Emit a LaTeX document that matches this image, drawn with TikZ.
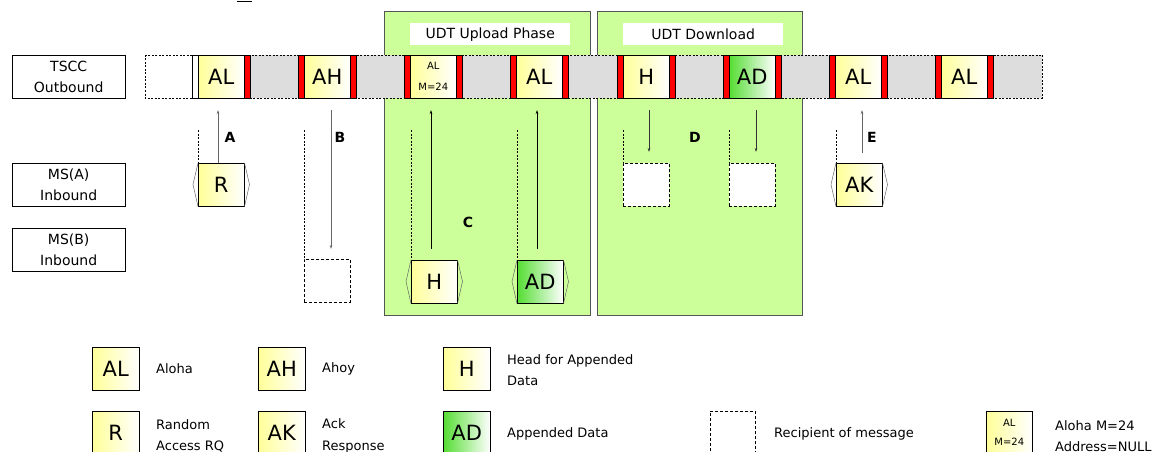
\documentclass[tikz,border=0pt]{standalone}
\usepackage{fontspec}
\setmainfont{DejaVu Sans}
\usetikzlibrary{arrows.meta}
\definecolor{panelgreen}{HTML}{CCFF99}
\definecolor{panelborder}{HTML}{555555}
\definecolor{stripgray}{HTML}{DDDDDD}
\definecolor{ylw}{HTML}{FFFF99}
\definecolor{grn}{HTML}{55DD33}
\definecolor{arrowgray}{HTML}{666666}
\begin{document}
\begin{tikzpicture}[x=1pt,y=-1pt,
  lbl/.style={draw=black, fill=white, minimum width=113pt, minimum height=43pt, anchor=north west, inner sep=0pt, align=center, font=\fontsize{14}{21}\selectfont},
  ycell/.style={draw=black, line width=0.5pt, left color=ylw, right color=white, minimum width=46pt, minimum height=43pt, anchor=north west, inner sep=0pt, font=\fontsize{21}{21}\selectfont},
  gcell/.style={ycell, left color=grn, right color=white},
  smallcell/.style={ycell, align=center, font=\fontsize{10}{21}\selectfont},
  legbox/.style={ycell, minimum width=47pt},
  glegbox/.style={gcell, minimum width=47pt},
  redbar/.style={fill=red, draw=black, line width=0.4pt},
  recip/.style={draw=black, line width=0.6pt, dash pattern=on 3pt off 2pt, fill=white, minimum width=46pt, minimum height=43pt, anchor=north west, inner sep=0pt},
  sig/.style={draw=arrowgray, line width=0.7pt, -{Stealth[length=4pt,width=2.5pt]}},
  guide/.style={draw=black, line width=0.5pt, dash pattern=on 2pt off 1.5pt},
  brk/.style={draw=black!60, line width=0.5pt},
  letter/.style={font=\bfseries\fontsize{14}{14}\selectfont},
  legtext/.style={anchor=west, align=left, inner sep=0pt, font=\fontsize{13}{21.5}\selectfont},
  panel/.style={draw=panelborder, fill=panelgreen, line width=1pt},
  ptitle/.style={fill=white, minimum width=160pt, minimum height=22pt, anchor=north west, inner sep=0pt, font=\fontsize{14}{14}\selectfont}
]
\clip (0,0) rectangle (1173,452);
\useasboundingbox (0,0) rectangle (1173,452);

% stray underline at top
\draw[line width=1.2pt] (237,1.5) -- (252,1.5);

% phase panels
\draw[panel] (384,12) rectangle (590,315);
\draw[panel] (597,12) rectangle (802,315);
\node[ptitle] (tup) at (410,23) {UDT Upload Phase};
\node[ptitle] (tdn) at (623,23) {UDT Download};

% row labels
\node[lbl] (tscc) at (12,55) {TSCC\\Outbound};
\node[lbl] (msa) at (12,163) {MS(A)\\Inbound};
\node[lbl] (msb) at (12,228) {MS(B)\\Inbound};

% outbound strip
\draw[dash pattern=on 2pt off 1.5pt, line width=0.5pt, fill=white] (145,55) rectangle (192,98);
\draw[dash pattern=on 2pt off 1.5pt, line width=0.5pt, fill=stripgray] (198,55) rectangle (1042,98);
\draw[line width=0.5pt, fill=white] (192,55) rectangle (198,98);

\node[ycell] (c1) at (198,55) {AL};
\draw[redbar] (244,55) rectangle (250,98);

\draw[redbar] (298,55) rectangle (304,98);
\node[ycell] (c2) at (304,55) {AH};
\draw[redbar] (350,55) rectangle (356,98);

\draw[redbar] (404,55) rectangle (410,98);
\node[smallcell] (c3) at (410,55) {AL\\M=24};
\draw[redbar] (456,55) rectangle (462,98);

\draw[redbar] (510,55) rectangle (516,98);
\node[ycell] (c4) at (516,55) {AL};
\draw[redbar] (562,55) rectangle (568,98);

\draw[redbar] (617,55) rectangle (623,98);
\node[ycell] (c5) at (623,55) {H};
\draw[redbar] (669,55) rectangle (675,98);

\draw[redbar] (723,55) rectangle (729,98);
\node[gcell] (c6) at (729,55) {AD};
\draw[redbar] (775,55) rectangle (781,98);

\draw[redbar] (829,55) rectangle (835,98);
\node[ycell] (c7) at (835,55) {AL};
\draw[redbar] (881,55) rectangle (887,98);

\draw[redbar] (935,55) rectangle (941,98);
\node[ycell] (c8) at (941,55) {AL};
\draw[redbar] (987,55) rectangle (993,98);

% inbound messages
\node[ycell] (R) at (198,163) {R};
\node[ycell] (AK) at (836,163) {AK};
\node[ycell] (Hin) at (411,260) {H};
\node[gcell] (ADin) at (517,260) {AD};
\foreach \n in {R,AK,Hin,ADin}{
  \draw[brk] (\n.north west) -- ++(-5,21.5) -- (\n.south west);
  \draw[brk] (\n.north east) -- ++(5,21.5) -- (\n.south east);
}

% recipients
\node[recip] (rB) at (304,259) {};
\node[recip] (rD1) at (623,163) {};
\node[recip] (rD2) at (729,163) {};

% guide lines
\coordinate (gA) at (198,130);
\coordinate (gB) at (304,130);
\coordinate (gC1) at (411,130);
\coordinate (gC2) at (517,130);
\coordinate (gD1) at (623,130);
\coordinate (gD2) at (729,130);
\coordinate (gE) at (836,130);
\draw[guide] (gA) -- (R.north west);
\draw[guide] (gB) -- (rB.north west);
\draw[guide] (gC1) -- (Hin.north west);
\draw[guide] (gC2) -- (ADin.north west);
\draw[guide] (gD1) -- (rD1.north west);
\draw[guide] (gD2) -- (rD2.north west);
\draw[guide] (gE) -- (AK.north west);

% signalling arrows
\coordinate (aA) at (218,110);
\coordinate (aB) at (331,110);
\coordinate (aC1) at (431,110);
\coordinate (aC2) at (537,110);
\coordinate (aD1) at (649,110);
\coordinate (aD2) at (756,110);
\coordinate (aE) at (862,110);
\draw[sig] (R.north -| aA) -- (aA);
\draw[sig, shorten >=10pt] (aB) -- (rB.north -| aB);
\draw[sig, draw=black, shorten <=11pt] (Hin.north -| aC1) -- (aC1);
\draw[sig, draw=black, shorten <=11pt] (ADin.north -| aC2) -- (aC2);
\draw[sig, draw=black!80, shorten >=11pt] (aD1) -- (rD1.north -| aD1);
\draw[sig, draw=black!80, shorten >=11pt] (aD2) -- (rD2.north -| aD2);
\draw[sig, shorten <=10pt] (AK.north -| aE) -- (aE);

% step letters
\node[letter] (lA) at (230,137) {A};
\node[letter] (lB) at (340,137) {B};
\node[letter] (lC) at (468,222) {C};
\node[letter] (lD) at (695,137) {D};
\node[letter] (lE) at (872,137) {E};

% legend
\node[legbox] (kAL) at (92,347) {AL};
\node[legtext] (tAL) at (156,369) {Aloha};
\node[legbox] (kAH) at (258,347) {AH};
\node[legtext] (tAH) at (322,369) {Ahoy};
\node[legbox] (kH) at (443,347) {H};
\node[legtext] (tH) at (507,370) {Head for Appended\\Data};

\node[legbox] (kR) at (92,411) {R};
\node[legtext] (tR) at (156,436) {Random\\Access RQ};
\node[legbox] (kAK) at (258,411) {AK};
\node[legtext] (tAK) at (322,436) {Ack\\Response};
\node[glegbox] (kAD) at (443,411) {AD};
\node[legtext] (tAD) at (507,434) {Appended Data};
\node[recip, minimum width=45pt] (kRc) at (710,411) {};
\node[legtext] (tRc) at (774,434) {Recipient of message};
\node[smallcell, font=\fontsize{10}{19}\selectfont] (kM) at (986,411) {AL\\M=24};
\node[legtext] (tM) at (1055,436) {Aloha M=24\\Address=NULL};
\end{tikzpicture}
\end{document}
